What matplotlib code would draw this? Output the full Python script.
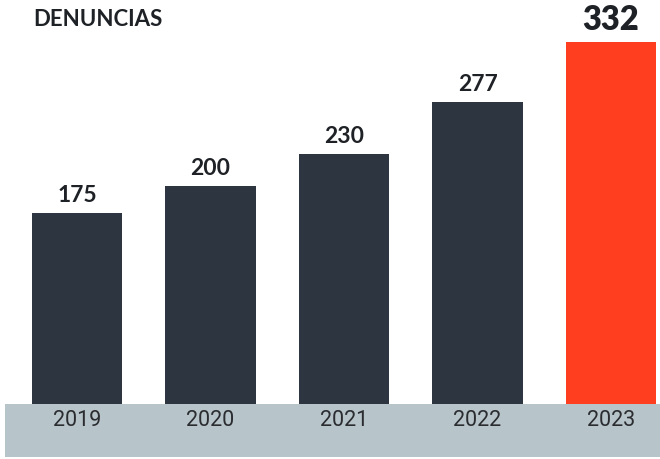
import matplotlib
matplotlib.use("Agg")
import matplotlib.pyplot as plt
from matplotlib.patches import Rectangle

years = ["2019", "2020", "2021", "2022", "2023"]
denuncias = [175, 200, 230, 277, 332]

DARK = "#2c3540"
RED = "#ff3d1f"
BAND = "#b7c4c9"

fig = plt.figure(figsize=(6.6, 4.59), dpi=100)
fig.patch.set_facecolor("white")

# grey strip with the years
band_h = 55 / 459
fig.patches.append(Rectangle((5 / 660, 2 / 459), 1, band_h - 2 / 459,
                             transform=fig.transFigure, facecolor=BAND,
                             edgecolor="none", zorder=0))

ax = fig.add_axes([0, band_h, 1, 1 - band_h])
ax.set_facecolor("none")
x = list(range(len(years)))
colors = [DARK] * (len(years) - 1) + [RED]
bars = ax.bar(x, denuncias, width=0.68, color=colors, zorder=2)

x0, x1 = -0.577, 4.367
ax.set_xlim(x0, x1)
ax.set_ylim(0, 371)
ax.axis("off")

for i, (b, v) in enumerate(zip(bars, denuncias)):
    last = i == len(denuncias) - 1
    cx = b.get_x() + b.get_width() / 2
    ax.annotate(str(v), (cx, v),
                xytext=(0, 5), textcoords="offset points",
                ha="center", va="bottom", color="#1e2125",
                fontsize=23.5 if last else 16.5,
                fontweight="heavy" if last else "bold",
                family=["Lato", "DejaVu Sans"])
    fig.text((cx - x0) / (x1 - x0), (459 - 421) / 459, years[i],
             ha="center", va="center", fontsize=15.5, color="#2a2c30",
             fontstretch="condensed",
             family=["Liberation Sans Narrow", "Roboto", "DejaVu Sans"])

fig.text(33 / 660, 1 - 20 / 459, "DENUNCIAS", ha="left", va="center",
         fontsize=16, fontweight="bold", color="#1e2125",
         family=["Lato", "DejaVu Sans"])

fig.savefig("out.png", dpi=100)
